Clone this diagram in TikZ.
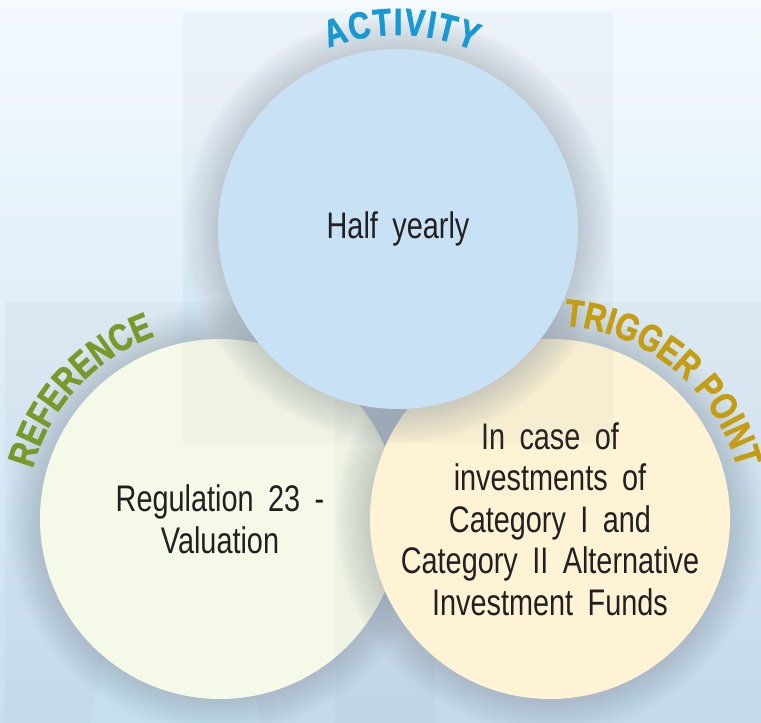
\documentclass[tikz,border=0pt]{standalone}
\usepackage{fontspec}
\setmainfont{Liberation Sans}[FakeStretch=0.78, WordSpace=1.8]
\newfontfamily\lblface{Liberation Sans Bold}[FakeStretch=0.8, FakeBold=1.6]
\usetikzlibrary{decorations.text}
\definecolor{actblue}{HTML}{1898D5}
\definecolor{refgreen}{HTML}{789A2B}
\definecolor{triggold}{HTML}{C59D12}
\definecolor{actfill}{HTML}{C9E1F4}
\definecolor{reffill}{HTML}{F5F9E8}
\definecolor{trigfill}{HTML}{FEF3D5}
\definecolor{ink}{HTML}{231F20}
\definecolor{bgtop}{HTML}{F4FAFE}
\definecolor{bgbot}{HTML}{C7DFF0}
\definecolor{glowgray}{HTML}{8A93A0}
\newcommand\lblfont{\fontsize{19}{19}\selectfont\lblface}
\tikzset{
  disc/.style={circle, fill=#1, minimum size=180pt, inner sep=0pt, align=center,
               text=ink, font=\fontsize{18.5}{20.8}\selectfont},
  tile/.style={fill=glowgray, opacity=0.06},
  halo/.style={fill=glowgray, opacity=0.022},
  arctext/.style n args={2}{decorate, decoration={text along path, text align={fit to path},
               text={|\lblfont\color{#1}|#2}}},
}
\begin{document}
\begin{tikzpicture}[x=0.5pt, y=0.5pt]
  \useasboundingbox (0,0) rectangle (761,723);
  % backdrop
  \shade[top color=bgtop, bottom color=bgbot] (0,0) rectangle (761,723);
  \fill[cyan!20!white, opacity=0.35] (193,480) -- (90,0) -- (260,0) -- cycle;
  \coordinate (cact) at (398,494);
  \coordinate (cref) at (220,204);
  \coordinate (ctrig) at (550,204);
  % left disc
  \fill[tile] (5,0) rectangle (435,421);
  \foreach \k in {2,4,...,34}
    \fill[halo] (cref) circle[radius=180+\k];
  \node[disc=reffill] (ref) at (cref) {Regulation 23 -\\Valuation};
  % right disc
  \fill[tile] (335,0) rectangle (761,421);
  \foreach \k in {2,4,...,34}
    \fill[halo] (ctrig) circle[radius=180+\k];
  \node[disc=trigfill] (trig) at (ctrig) {In case of\\investments of\\Category I and\\Category II Alternative\\Investment Funds};
  % top disc
  \fill[tile] (183,280) rectangle (613,710);
  \foreach \k in {2,4,...,34}
    \fill[halo] (cact) circle[radius=180+\k];
  \node[disc=actfill] (act) at (cact) {Half yearly};
  % curved labels
  \path[arctext={actblue}{ACTIVITY}] (cact) ++(111:194) arc[start angle=111, end angle=67, radius=194];
  \path[arctext={refgreen}{REFERENCE}] (cref) ++(165:194) arc[start angle=165, end angle=110, radius=194];
  \path[arctext={triggold}{TRIGGER POINT}] (ctrig) ++(86:194) arc[start angle=86, end angle=15, radius=194];
\end{tikzpicture}
\end{document}
